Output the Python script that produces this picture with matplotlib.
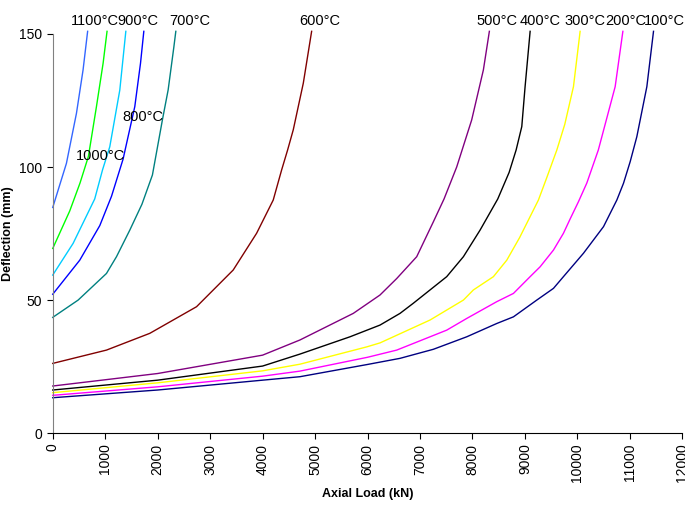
import matplotlib.pyplot as plt

plt.rcParams['font.family'] = ['Liberation Sans', 'DejaVu Sans']

# axial load (kN) vs deflection (mm), one curve per temperature
x100 = [0, 2000, 4000, 4712, 6000, 6620, 7255, 7892, 8464, 8782, 9227, 9545, 9735, 10117, 10499, 10753, 10880, 11007, 11134, 11325, 11452]
y100 = [13.3, 16.2, 19.9, 21.2, 25.8, 28.1, 31.5, 36.2, 41.2, 43.7, 50, 54.4, 58.8, 67.6, 77.6, 87.6, 93.9, 102, 111.4, 130.2, 151]
x200 = [0, 2000, 4000, 4712, 6000, 6557, 7510, 7892, 8464, 8782, 9100, 9290, 9545, 9735, 9863, 10022, 10181, 10400, 10721, 10868]
y200 = [14.2, 17.4, 21.4, 23.3, 28.5, 31.2, 38.7, 43.1, 49.4, 52.5, 58.8, 62.5, 68.8, 75.1, 80.5, 87, 94, 106.4, 130.2, 151]
x300 = [0, 2000, 4000, 4712, 5984, 6238, 7192, 7828, 8018, 8400, 8655, 8900, 9258, 9417, 9609, 9760, 9926, 10053]
y300 = [15.2, 18.9, 23.4, 25.9, 32.4, 33.9, 42.5, 50, 53.8, 58.8, 65, 73.5, 87.6, 96, 106.4, 116, 130.2, 151]
x400 = [0, 2000, 4000, 4712, 5666, 6238, 6620, 6873, 7510, 7828, 8146, 8483, 8700, 8833, 8941, 9004, 9100]
y400 = [16.2, 19.9, 25.2, 29.7, 36.2, 40.6, 45, 48.8, 58.8, 66.3, 76.3, 88, 98, 106.4, 115.2, 130.2, 151]
x500 = [0, 2000, 4000, 4712, 5729, 6238, 6557, 6938, 7255, 7459, 7700, 7986, 8209, 8323]
y500 = [17.7, 22.4, 29.3, 35, 45, 51.9, 58.1, 66.3, 79.4, 88, 100, 117.7, 136.5, 151]
x600 = [0, 1024, 1850, 2741, 3440, 3886, 4203, 4363, 4477, 4585, 4776, 4935]
y600 = [26.2, 31.2, 37.5, 47.5, 61.3, 75.1, 87.6, 98.9, 106.4, 114, 131.5, 151]
x700 = [0, 484, 1024, 1215, 1469, 1700, 1900, 2093, 2200, 2308, 2346]
y700 = [43.5, 50, 60, 66.3, 76.3, 86, 97, 118, 129, 145, 151]
x800 = [0, 515, 897, 1120, 1341, 1564, 1673, 1736]
y800 = [52.2, 65, 78, 89, 103, 122.7, 139, 151]
x900 = [0, 388, 800, 950, 1087, 1278, 1393]
y900 = [59.4, 71.3, 88, 99, 107.6, 128.9, 151]
x1000 = [0, 324, 520, 680, 833, 960, 1035]
y1000 = [69.4, 83.5, 94, 104, 122.7, 139, 151]
x1100 = [0, 261, 452, 578, 665]
y1100 = [84.8, 101.4, 120.2, 136.5, 151]

labels = ['100°C', '200°C', '300°C', '400°C', '500°C', '600°C',
          '700°C', '800°C', '900°C', '1000°C', '1100°C']
colors = ['#000080', '#FF00FF', '#FFFF00', '#000000', '#800080', '#800000',
          '#008080', '#0000FF', '#00CCFF', '#00FF00', '#3366FF']
label_x = [11656, 10931, 10139, 9290, 8470, 5084, 2613, 1727, 1622, 906, 811]
label_y = [155, 155, 155, 155, 155, 155, 155, 118.8, 155, 104.3, 155]

xs = [x100, x200, x300, x400, x500, x600, x700, x800, x900, x1000, x1100]
ys = [y100, y200, y300, y400, y500, y600, y700, y800, y900, y1000, y1100]

fig = plt.figure(figsize=(6.85, 5.15), dpi=100)
ax = fig.add_axes([0.077, 0.159, 0.919, 0.775])

for x, y, c in zip(xs, ys, colors):
    ax.plot(x, y, color=c, lw=1, clip_on=False)

for lab, lx, ly in zip(labels, label_x, label_y):
    ax.text(lx, ly, lab, ha='center', va='center', fontsize=10.5)

ax.set_xlim(0, 12000)
ax.set_ylim(0, 150)
ax.set_xticks(range(0, 12001, 1000))
ax.set_yticks([0, 50, 100, 150])
ax.tick_params(axis='x', labelrotation=90, labelsize=10, direction='out', length=4)
ax.tick_params(axis='y', labelsize=10, direction='out', length=4)
ax.spines['top'].set_visible(False)
ax.spines['right'].set_visible(False)
ax.spines['left'].set_color('#808080')
ax.set_xlabel('Axial Load (kN)', fontsize=9, fontweight='bold')
ax.set_ylabel('Deflection (mm)', fontsize=9, fontweight='bold')

fig.savefig('out.png', dpi=100)
